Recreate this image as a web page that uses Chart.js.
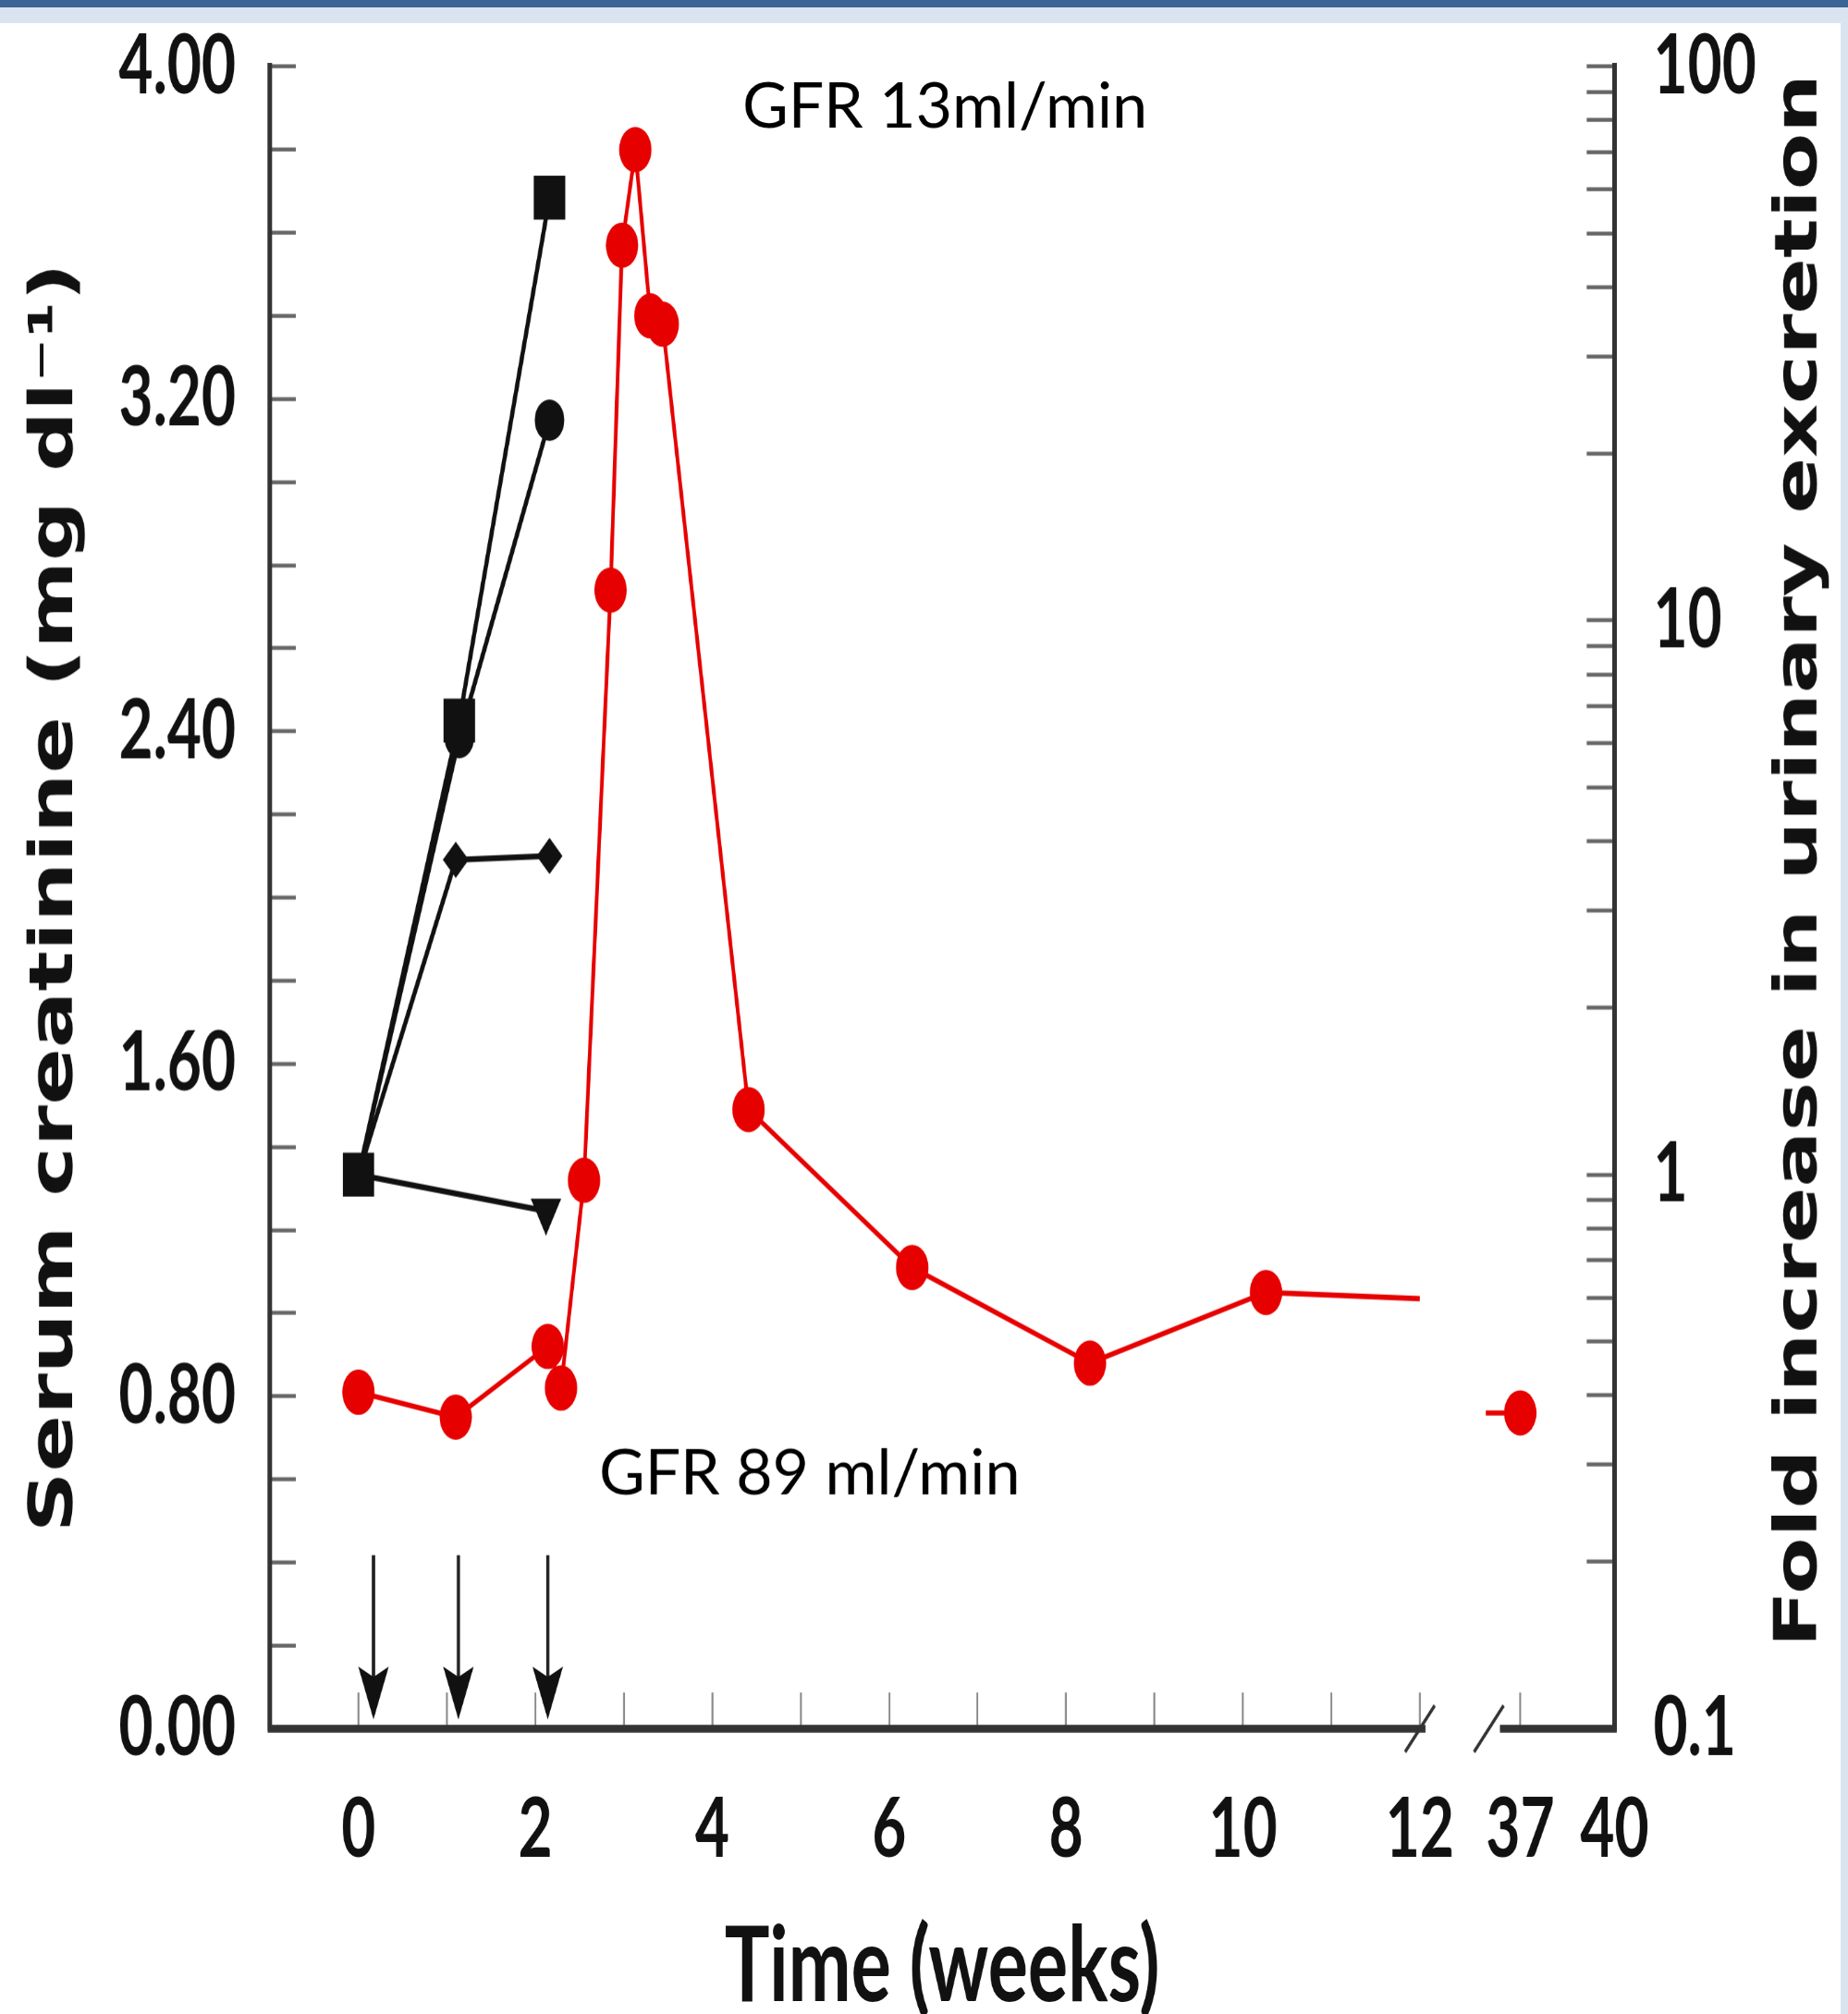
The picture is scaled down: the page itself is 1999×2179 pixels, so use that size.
<!DOCTYPE html>
<html>
<head>
<meta charset="utf-8">
<script src="https://cdn.jsdelivr.net/npm/chart.js@4.4.1/dist/chart.umd.min.js"></script>
<style>
  html, body { margin: 0; padding: 0; background: #fff; }
  body { width: 1999px; height: 2179px; overflow: hidden; position: relative; }
  #wrap { position: absolute; left: 0; top: 0; width: 1999px; height: 1556px; transform-origin: 0 0; }
  .band { position: absolute; z-index: 2; }
</style>
</head>
<body>
<div id="wrap"><canvas id="chart"></canvas></div>
<div class="band" style="left:0;top:0;width:1999px;height:8px;background:#3a6496"></div>
<div class="band" style="left:0;top:8px;width:1999px;height:17px;background:#dae4f0"></div>
<div class="band" style="left:1991px;top:8px;width:8px;height:2171px;background:#dae4f0"></div>
<script>
// x axis is in weeks, broken between 12 and 37
const BREAK_FROM = 12;
const BREAK_TO = 37;
const AXIS_END = 40;

const xTickWeeks = [0, 1, 2, 3, 4, 5, 6, 7, 8, 9, 10, 11, 12, 37, 40];
const xTickLabels = ["0", "", "2", "", "4", "", "6", "", "8", "", "10", "", "12", "37", "40"];

// serum creatinine axis (left)
const leftTicks = [0, 0.2, 0.4, 0.6, 0.8, 1.0, 1.2, 1.4, 1.6, 1.8, 2.0, 2.2, 2.4, 2.6, 2.8, 3.0, 3.2, 3.4, 3.6, 3.8, 4.0];
const leftLabels = ["0.00", "", "", "", "0.80", "", "", "", "1.60", "", "", "", "2.40", "", "", "", "3.20", "", "", "", "4.00"];

// fold increase axis (right, log)
const rightTicks = [0.1, 0.2, 0.3, 0.4, 0.5, 0.6, 0.7, 0.8, 0.9, 1, 2, 3, 4, 5, 6, 7, 8, 9, 10, 20, 30, 40, 50, 60, 70, 80, 90, 100];
const rightLabels = ["0.1", "", "", "", "", "", "", "", "", "1", "", "", "", "", "", "", "", "", "10", "", "", "", "", "", "", "", "", "100"];

// black series: fold increase in urinary excretion
const squareWeeks = [0, 1.14, 2.16];
const squareFold = [1.0, 6.6, 58];
const circleWeeks = [0, 1.14, 2.16];
const circleFold = [1.0, 6.15, 23];
const diamondWeeks = [0, 1.10, 2.16];
const diamondFold = [1.0, 3.7, 3.76];
const triangleWeeks = [0, 2.12];
const triangleFold = [1.0, 0.86];

// red series: serum creatinine; the unmarked entries carry the line to and from the break
const redWeeks = [0, 1.10, 2.14, 2.29, 2.55, 2.85, 2.98, 3.13, 3.30, 3.44, 4.41, 6.26, 8.27, 10.26, 12, 12, 35.9, 37];
const redCreat = [0.81, 0.75, 0.92, 0.82, 1.32, 2.74, 3.57, 3.80, 3.40, 3.38, 1.49, 1.11, 0.88, 1.05, 1.035, null, 0.76, 0.76];
const redMarked = [1, 1, 1, 1, 1, 1, 1, 1, 1, 1, 1, 1, 1, 1, 0, 0, 0, 1];

// dosing arrows
const doseWeeks = [0.17, 1.13, 2.14];

const notes = [
  { text: "GFR 13ml/min", week: 4.34, value: 3.853 },
  { text: "GFR 89 ml/min", week: 2.72, value: 0.565 }
];

// the source picture is stretched vertically, so draw flat and stretch
const H = 1556;
const S = 2179 / H;
document.getElementById("wrap").style.transform = "scaleY(" + S + ")";

// axis units per week after the break
const AFTER_RATE = 0.355;
const AXIS_POS_END = 14.2;
function axisPos(w) {
  if (w <= BREAK_FROM) return w;
  return AXIS_POS_END - (AXIS_END - w) * AFTER_RATE;
}

function pts(ws, vs) {
  return ws.map((w, i) => ({ x: axisPos(w), y: vs[i] }));
}

// keep the plot area where the picture has it
function noPad(s) {
  s.paddingTop = 0;
  s.paddingBottom = 0;
  s.paddingLeft = 0;
  s.paddingRight = 0;
}

const tickFont = { family: "Lato", size: 64, weight: "bold" };

const extras = {
  id: "extras",
  afterDraw(chart) {
    const ctx = chart.ctx;
    const xs = chart.scales.x;
    const ys = chart.scales.y;
    const area = chart.chartArea;
    const y0 = ys.getPixelForValue(0);
    const xBreak = xs.getPixelForValue(axisPos(BREAK_FROM));
    const xResume = xs.getPixelForValue(axisPos(BREAK_TO));

    ctx.save();
    // broken x axis
    ctx.strokeStyle = "#333";
    ctx.lineWidth = 6;
    ctx.beginPath();
    ctx.moveTo(area.left - 2.5, y0);
    ctx.lineTo(xBreak + 6, y0);
    ctx.moveTo(xResume - 22, y0);
    ctx.lineTo(area.right + 2.5, y0);
    ctx.stroke();
    ctx.lineWidth = 3;
    [xBreak, xResume - 34].forEach(cx => {
      ctx.beginPath();
      ctx.moveTo(cx - 16, y0 + 18);
      ctx.lineTo(cx + 16, y0 - 18);
      ctx.stroke();
    });

    // arrows
    doseWeeks.forEach(w => {
      const x = xs.getPixelForValue(axisPos(w));
      const top = ys.getPixelForValue(0.418);
      const tip = ys.getPixelForValue(0.022);
      ctx.strokeStyle = "#222";
      ctx.lineWidth = 3.5;
      ctx.beginPath();
      ctx.moveTo(x, top);
      ctx.lineTo(x, tip - 30);
      ctx.stroke();
      ctx.fillStyle = "#111";
      ctx.beginPath();
      ctx.moveTo(x - 16.5, tip - 41);
      ctx.lineTo(x, tip - 33);
      ctx.lineTo(x + 16.5, tip - 41);
      ctx.lineTo(x, tip);
      ctx.closePath();
      ctx.fill();
    });

    // GFR notes, drawn unstretched
    ctx.fillStyle = "#000";
    ctx.font = "68px Lato";
    ctx.textAlign = "left";
    ctx.textBaseline = "alphabetic";
    notes.forEach(n => {
      ctx.save();
      ctx.translate(xs.getPixelForValue(axisPos(n.week)), ys.getPixelForValue(n.value));
      ctx.scale(1, 1 / S);
      ctx.fillText(n.text, 0, 0);
      ctx.restore();
    });

    // right axis title reads bottom to top
    ctx.save();
    ctx.translate(1948, 931 / S);
    ctx.rotate(-Math.PI / 2);
    ctx.font = "bold 64px 'DejaVu Sans'";
    ctx.textAlign = "center";
    ctx.textBaseline = "middle";
    ctx.fillStyle = "#111";
    ctx.fillText("Fold increase in urinary excretion", 0, 0);
    ctx.restore();

    ctx.restore();
  }
};

const black = "#111";
const red = "#e60000";

new Chart(document.getElementById("chart"), {
  type: "line",
  data: {
    datasets: [
      {
        label: "square",
        data: pts(squareWeeks, squareFold),
        yAxisID: "y1",
        borderColor: black,
        borderWidth: 4.5,
        pointStyle: "rect",
        pointRadius: 24,
        pointBackgroundColor: black,
        pointBorderWidth: 0,
        order: 0
      },
      {
        label: "circle",
        data: pts(circleWeeks, circleFold),
        yAxisID: "y1",
        borderColor: black,
        borderWidth: 4.5,
        pointStyle: "circle",
        pointRadius: c => (c.dataIndex === 0 ? 0 : 16),
        pointBackgroundColor: black,
        pointBorderWidth: 0,
        order: 1
      },
      {
        label: "diamond",
        data: pts(diamondWeeks, diamondFold),
        yAxisID: "y1",
        borderColor: black,
        borderWidth: 4.5,
        pointStyle: "rectRot",
        pointRadius: c => (c.dataIndex === 0 ? 0 : 14),
        pointBackgroundColor: black,
        pointBorderWidth: 0,
        order: 2
      },
      {
        label: "triangle",
        data: pts(triangleWeeks, triangleFold),
        yAxisID: "y1",
        borderColor: black,
        borderWidth: 4.5,
        pointStyle: "triangle",
        pointRotation: 180,
        pointRadius: c => (c.dataIndex === 0 ? 0 : 19),
        pointBackgroundColor: black,
        pointBorderWidth: 0,
        order: 3
      },
      {
        label: "creatinine",
        data: pts(redWeeks, redCreat),
        yAxisID: "y",
        borderColor: red,
        borderWidth: 4,
        spanGaps: false,
        pointStyle: "circle",
        pointRadius: c => (redMarked[c.dataIndex] ? 17.5 : 0),
        pointBackgroundColor: red,
        pointBorderWidth: 0,
        order: 4
      }
    ]
  },
  options: {
    responsive: true,
    maintainAspectRatio: false,
    animation: false,
    devicePixelRatio: 1.4,
    events: [],
    layout: { padding: { top: 72 / S, left: 0, right: 0, bottom: 0 } },
    elements: { line: { tension: 0 } },
    plugins: {
      legend: { display: false },
      tooltip: { enabled: false }
    },
    scales: {
      x: {
        type: "linear",
        min: -1,
        max: axisPos(AXIS_END),
        border: { display: false },
        grid: { drawOnChartArea: false, tickLength: -28, tickWidth: 2, tickColor: "#888" },
        afterBuildTicks: s => { s.ticks = xTickWeeks.map(w => ({ value: axisPos(w) })); },
        afterFit: s => { s.height = H - 1870 / S; noPad(s); },
        ticks: {
          autoSkip: false,
          maxRotation: 0,
          padding: 68,
          color: "#111",
          font: tickFont,
          callback: (v, i) => xTickLabels[i]
        },
        title: {
          display: true,
          text: "Time (weeks)",
          color: "#111",
          font: { family: "Lato", size: 81, weight: "bold", lineHeight: 1 },
          padding: { top: 0, bottom: -4 }
        }
      },
      y: {
        position: "left",
        min: 0,
        max: 4,
        border: { display: true, color: "#333", width: 5 },
        grid: { drawOnChartArea: false, tickLength: -28, tickWidth: 3, tickColor: "#666" },
        afterBuildTicks: s => { s.ticks = leftTicks.map(v => ({ value: v })); },
        afterFit: s => { s.width = 292; noPad(s); },
        ticks: {
          autoSkip: false,
          padding: 65,
          color: "#111",
          font: tickFont,
          callback: (v, i) => leftLabels[i]
        },
        title: {
          display: true,
          text: "Serum creatinine (mg dl⁻¹)",
          color: "#111",
          font: { family: "DejaVu Sans", size: 65, weight: "bold" },
          padding: { top: 22, bottom: 0 }
        }
      },
      y1: {
        type: "logarithmic",
        position: "right",
        min: 0.1,
        max: 100,
        border: { display: true, color: "#333", width: 5 },
        grid: { drawOnChartArea: false, tickLength: -30, tickWidth: 3, tickColor: "#666" },
        afterBuildTicks: s => { s.ticks = rightTicks.map(v => ({ value: v })); },
        afterFit: s => { s.width = 1999 - 1746; noPad(s); },
        ticks: {
          autoSkip: false,
          padding: 72,
          color: "#111",
          font: tickFont,
          callback: (v, i) => rightLabels[i]
        }
      }
    }
  },
  plugins: [extras]
});
</script>
</body>
</html>
